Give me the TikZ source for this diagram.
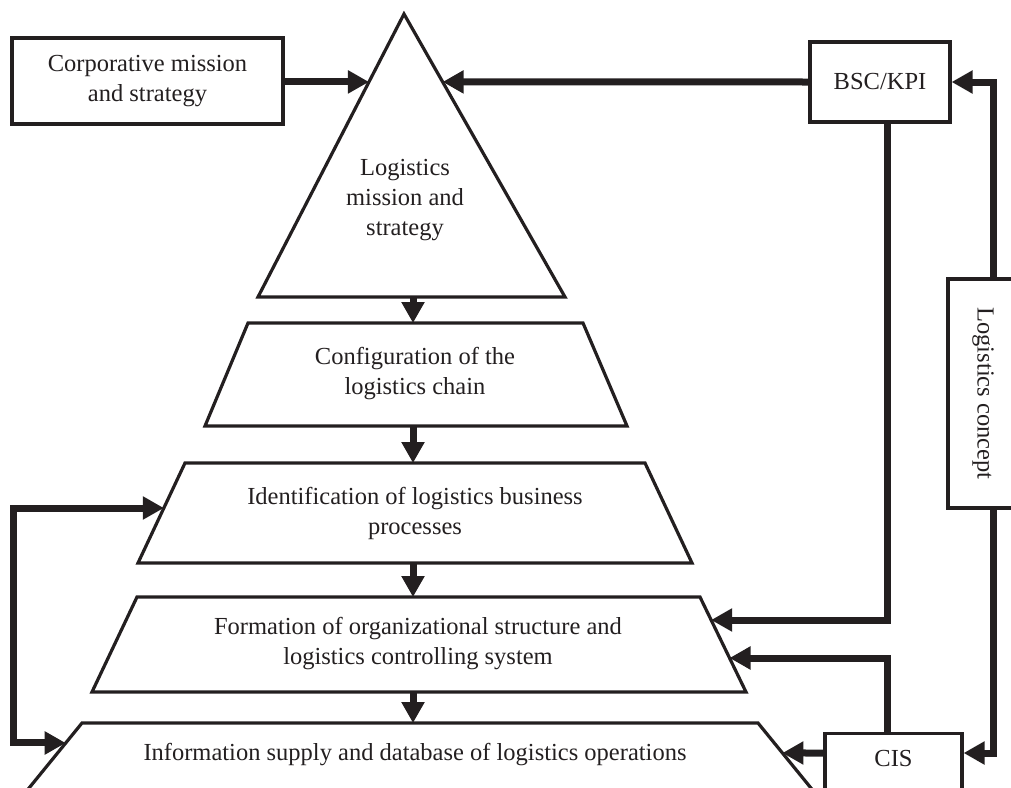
\documentclass[tikz,border=0pt]{standalone}
\usepackage{fontspec}
\setmainfont{Liberation Serif}
\usetikzlibrary{arrows.meta,positioning,calc}
\definecolor{ink}{RGB}{35,31,32}
\tikzset{
  box/.style={rectangle, draw=ink, line width=1.6pt, fill=white, text=ink,
              align=center, inner sep=0pt},
  layer/.style={draw=ink, line width=1.6pt, line join=miter},
  lbl/.style={align=center, inner sep=0pt, text=ink},
  link/.style={-{Triangle[length=10.5pt,width=11pt]}, line width=3.5pt, ink},
  linkboth/.style={{Triangle[length=10.5pt,width=11pt]}-{Triangle[length=10.5pt,width=11pt]},
                   line width=3.5pt, ink},
}

\begin{document}
\begin{tikzpicture}[x=0.5pt, y=-0.5pt, font=\fontsize{12.25pt}{15pt}\selectfont]
\useasboundingbox (0,0) rectangle (1011,787);
\clip (0,0) rectangle (1011,787);

% pyramid layers
\draw[layer] (404,14) coordinate (apex) -- (565,297) coordinate (tbr)
  -- (258,297) coordinate (tbl) -- cycle;
\draw[layer] (248,323) coordinate (c1tl) -- (583,323) coordinate (c1tr)
  -- (627,426) coordinate (c1br) -- (205,426) coordinate (c1bl) -- cycle;
\draw[layer] (185,463) coordinate (c2tl) -- (645,463) coordinate (c2tr)
  -- (692,563) coordinate (c2br) -- (138,563) coordinate (c2bl) -- cycle;
\draw[layer] (137,597) coordinate (c3tl) -- (700,597) coordinate (c3tr)
  -- (746,692) coordinate (c3br) -- (92,692) coordinate (c3bl) -- cycle;
\draw[layer] (82,723) coordinate (c4tl) -- (758,723) coordinate (c4tr)
  -- (837,820) coordinate (c4br) -- (3,820) coordinate (c4bl) -- cycle;

\node[lbl] (tlog) at (405,200) {Logistics\\mission and\\strategy};
\node[lbl] (tconf) at (415,374) {Configuration of the\\logistics chain};
\node[lbl] (tproc) at (415,513) {Identification of logistics business\\processes};
\node[lbl] (tform) at (418,644) {Formation of organizational structure and\\logistics controlling system};
\node[lbl] (tinfo) at (415,755) {Information supply and database of logistics operations};

% side boxes
\node[box, minimum width=135.5pt, minimum height=43pt] (corp) at (147.5,81)
  {Corporative mission\\and strategy};
\node[box, minimum width=70pt, minimum height=40pt] (bsc) at (880,82) {BSC/KPI};
\node[box, rotate=-90, minimum width=114.5pt, minimum height=35pt] (lc) at (983,393.5)
  {Logistics concept};
\node[box, anchor=north, minimum width=68.5pt, minimum height=40pt, inner ysep=0pt,
      text height=16.5pt, text depth=23.5pt] (cis) at (893.5,732) {CIS};

% arrow ends on the slanted sides
\path (apex) -- (tbl) coordinate[pos=0.24] (incorp);
\path (apex) -- (tbr) coordinate[pos=0.24] (inbsc);
\path (c2tl) -- (c2bl) coordinate[pos=0.45] (inproc);
\path (c3tr) -- (c3br) coordinate[pos=0.242] (inctrl) coordinate[pos=0.642] (incis);
\path (c4tl) -- (c4bl) coordinate[pos=0.206] (ininfol);
\path (c4tr) -- (c4br) coordinate[pos=0.309] (ininfor);
\coordinate (axis) at (413,0);
\coordinate (loopx) at (13,0);

\foreach \a/\b in {tbl/c1tl, c1bl/c2tl, c2bl/c3tl, c3bl/c4tl}
  \draw[link] (\a -| axis) -- (\b -| axis);

\draw[link] (corp.east |- incorp) -- (incorp);
\draw[link] (bsc.west) -- (inbsc);
\draw[link] ([xshift=3.5pt]bsc.south) |- (inctrl);
\draw[link] ([xshift=5pt]lc.west) |- (bsc.east);
\draw[link] ([xshift=5pt]lc.east) |- ([yshift=-10.5pt]cis.north east);
\draw[link] ([xshift=-3.25pt]cis.north) |- (incis);
\draw[link] ([yshift=-10.5pt]cis.north west) -- (ininfor);
\draw[linkboth] (inproc) -| (loopx |- ininfol) -- (ininfol);
\end{tikzpicture}
\end{document}
